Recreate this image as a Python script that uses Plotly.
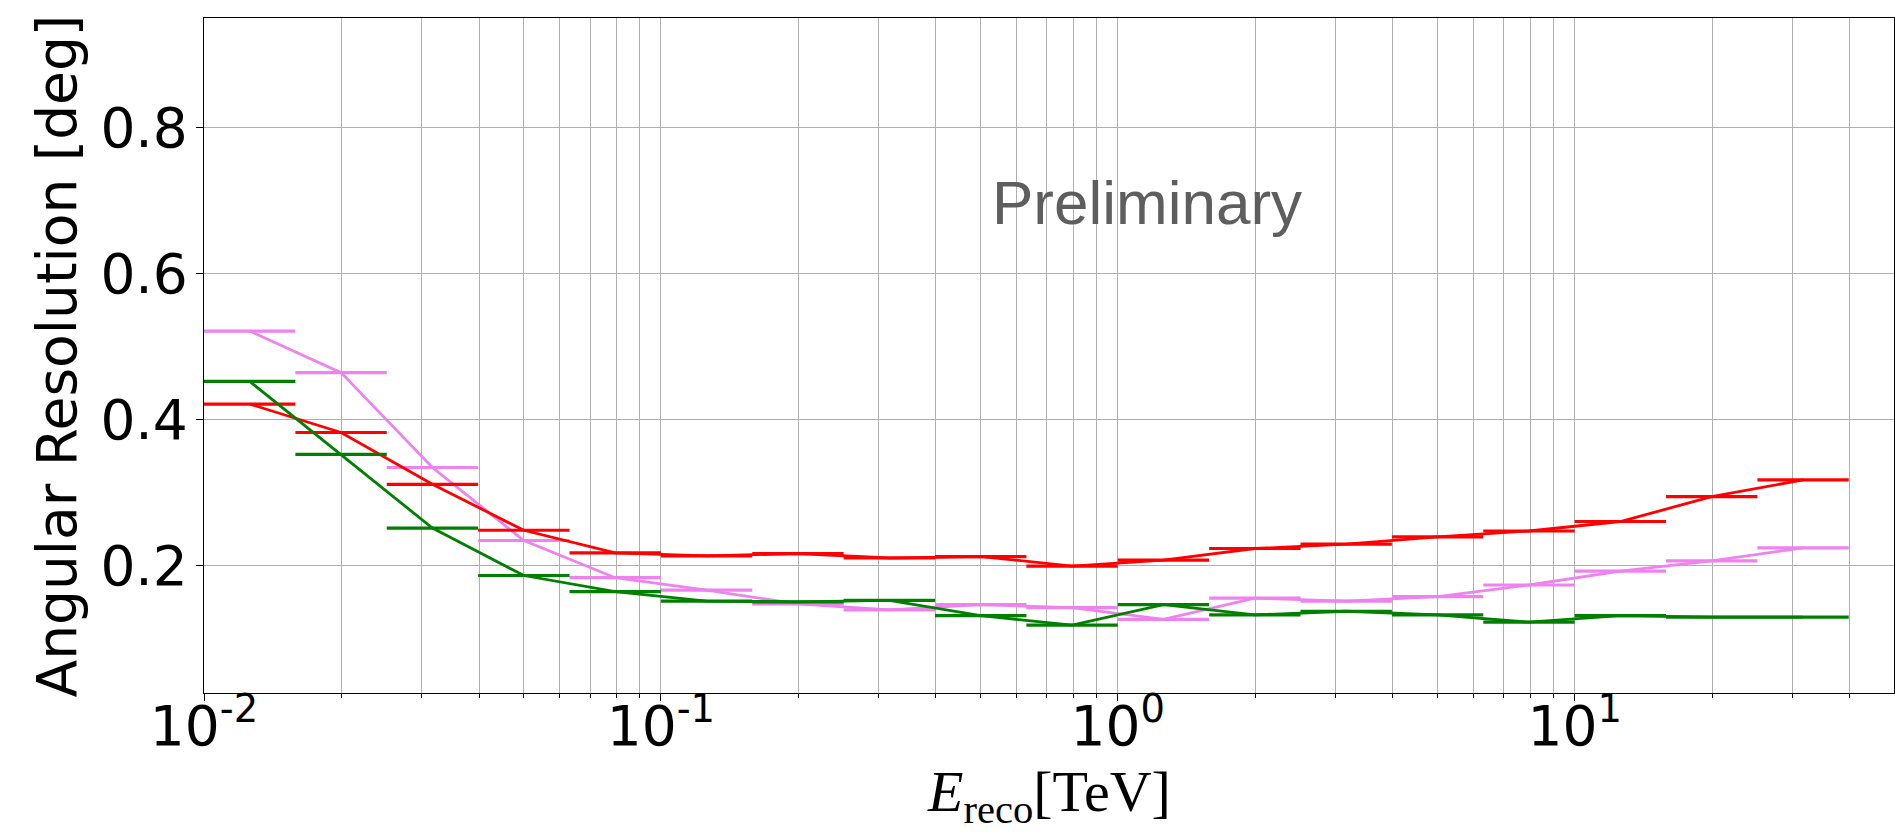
import plotly.graph_objects as go

# Reconstructed-energy bin edges in TeV (5 bins per decade)
energy_edges = [0.01, 0.01585, 0.02512, 0.03981, 0.0631, 0.1, 0.1585, 0.2512,
                0.3981, 0.631, 1.0, 1.585, 2.512, 3.981, 6.31, 10.0, 15.85,
                25.12, 39.81]

# Angular resolution per bin, degrees
res_red = [0.421, 0.382, 0.311, 0.248, 0.217, 0.213, 0.216, 0.210, 0.212,
           0.199, 0.207, 0.223, 0.229, 0.239, 0.247, 0.260, 0.294, 0.317]
res_violet = [0.521, 0.464, 0.334, 0.234, 0.183, 0.166, 0.147, 0.139, 0.146,
              0.142, 0.126, 0.155, 0.151, 0.157, 0.173, 0.192, 0.206, 0.224]
res_green = [0.452, 0.352, 0.251, 0.186, 0.164, 0.151, 0.150, 0.152, 0.131,
             0.118, 0.146, 0.132, 0.137, 0.132, 0.122, 0.131, 0.129, 0.129]

x_tick_vals = [0.01, 0.1, 1, 10]
x_tick_text = ["10<sup>-2</sup>", "10<sup>-1</sup>", "10<sup>0</sup>", "10<sup>1</sup>"]
y_tick_vals = [0.2, 0.4, 0.6, 0.8]
y_tick_text = ["0.2", "0.4", "0.6", "0.8"]

lo = energy_edges[:-1]
hi = energy_edges[1:]
centers = [(a * b) ** 0.5 for a, b in zip(lo, hi)]
err_plus = [h - c for h, c in zip(hi, centers)]
err_minus = [c - l for c, l in zip(centers, lo)]

fig = go.Figure()
for vals, col in [(res_violet, "violet"), (res_red, "red"), (res_green, "green")]:
    fig.add_trace(go.Scatter(
        x=centers, y=vals, mode="lines",
        line=dict(color=col, width=2.8),
        error_x=dict(type="data", symmetric=False, array=err_plus,
                     arrayminus=err_minus, width=0, thickness=3.2, color=col),
        showlegend=False, hoverinfo="skip",
    ))

minor_vals = [m * 10 ** k for k in range(-2, 2) for m in range(2, 10) if m * 10 ** k < 50]

fig.update_xaxes(
    type="log", range=[-2, 1.699],
    tickmode="array", tickvals=x_tick_vals, ticktext=x_tick_text,
    ticks="outside", ticklen=7, tickwidth=1.3, tickcolor="black",
    ticklabelstandoff=-22,
    tickfont=dict(family="DejaVu Sans", size=55, color="black"),
    showgrid=True, gridcolor="#b0b0b0", gridwidth=1.3,
    minor=dict(tickmode="array", tickvals=minor_vals, ticks="outside",
               ticklen=4, tickwidth=1, tickcolor="black",
               showgrid=True, gridcolor="#b0b0b0", gridwidth=1.3),
    showline=True, linecolor="black", linewidth=1.3, mirror=True,
    zeroline=False,
)
fig.update_yaxes(
    range=[0.025, 0.95],
    tickmode="array", tickvals=y_tick_vals, ticktext=y_tick_text,
    ticks="outside", ticklen=7, tickwidth=1.3, tickcolor="black",
    ticklabelstandoff=-3,
    tickfont=dict(family="DejaVu Sans", size=55, color="black"),
    showgrid=True, gridcolor="#b0b0b0", gridwidth=1.3,
    showline=True, linecolor="black", linewidth=1.3, mirror=True,
    zeroline=False,
)

fig.add_annotation(
    text="Preliminary", xref="paper", yref="paper", x=0.5578, y=0.7265,
    xanchor="center", yanchor="middle", showarrow=False,
    font=dict(family="Liberation Sans", size=62, color="#5e5e5e"),
)
fig.add_annotation(
    text="<i>E</i><sub>reco</sub>[TeV]", xref="paper", yref="paper",
    x=0.5, y=-0.095, xanchor="center", yanchor="top", showarrow=False,
    font=dict(family="Liberation Serif", size=58, color="black"),
)
fig.add_annotation(
    text="Angular Resolution [deg]", xref="paper", yref="paper",
    x=-0.087, y=0.5, xanchor="center", yanchor="middle", textangle=-90,
    showarrow=False,
    font=dict(family="DejaVu Sans", size=55, color="black"),
)

fig.update_layout(
    width=1895, height=836,
    margin=dict(l=204, r=1, t=18, b=143),
    paper_bgcolor="white", plot_bgcolor="white",
)
fig.write_html("out.html")
